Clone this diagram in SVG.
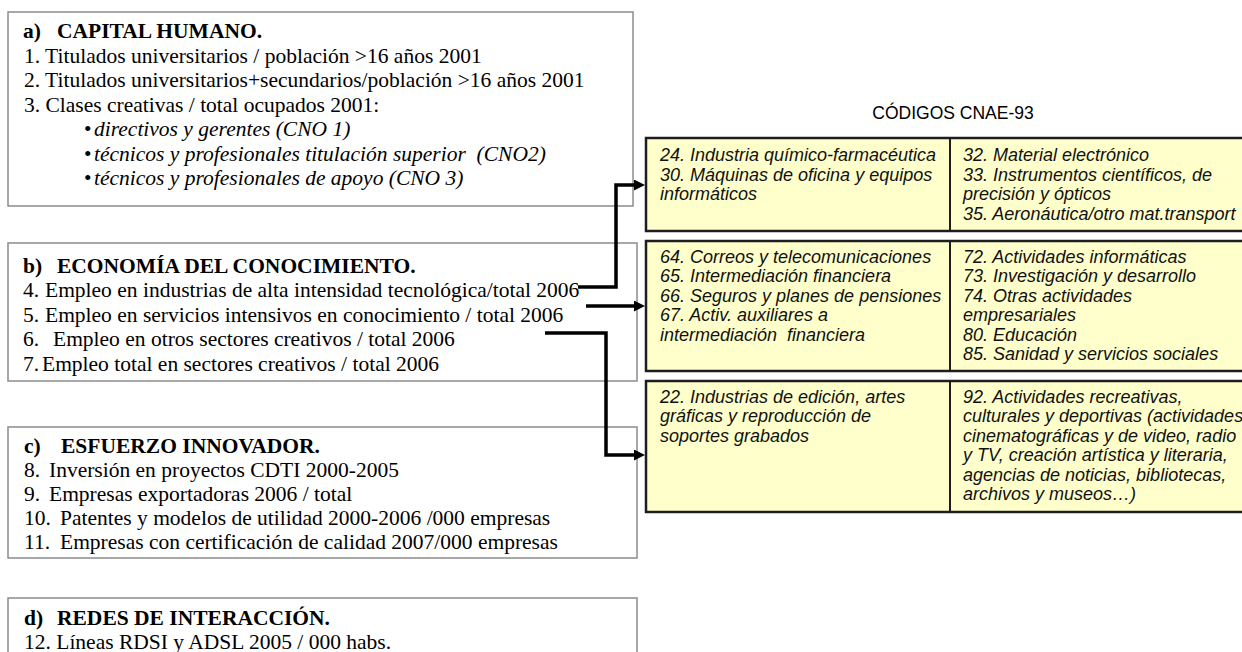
<svg xmlns="http://www.w3.org/2000/svg" width="1242" height="652" viewBox="0 0 1242 652">
<defs>
<style>
.lbox{fill:#ffffff;stroke:#8c8c8c;stroke-width:1.5}
.ybox{fill:#ffffcc;stroke:#1e1e1e;stroke-width:2.5}
.div{stroke:#1e1e1e;stroke-width:2}
.t{font-family:"Liberation Serif","Times New Roman",serif;font-size:21.5px;fill:#000}
.h{font-weight:bold}
.it{font-style:italic}
.y{font-family:"Liberation Sans",Arial,sans-serif;font-size:18px;font-style:italic;fill:#111}
.title{font-family:"Liberation Sans",Arial,sans-serif;font-size:17.5px;fill:#000}
.conn{fill:none;stroke:#000;stroke-width:3.5;stroke-linejoin:miter}
</style>
<marker id="arr" markerUnits="userSpaceOnUse" markerWidth="12" markerHeight="11" refX="6" refY="5.5" orient="auto">
<path d="M0,0 L11,5.5 L0,11 z" fill="#000"/>
</marker>
</defs>

<g id="box-a">
<rect class="lbox" x="8" y="12" width="625" height="194"/>
<text class="t h" x="23" y="38">a)</text><text class="t h" x="57" y="38">CAPITAL HUMANO.</text>
<text class="t" x="24" y="62.5">1. Titulados universitarios / población &gt;16 años 2001</text>
<text class="t" x="24" y="87">2. Titulados universitarios+secundarios/población &gt;16 años 2001</text>
<text class="t" x="24" y="111.5">3. Clases creativas / total ocupados 2001:</text>
<text class="t" x="84" y="136">•</text><text class="t it" x="94" y="136">directivos y gerentes (CNO 1)</text>
<text class="t" x="84" y="160.5">•</text><text class="t it" x="94" y="160.5" xml:space="preserve">técnicos y profesionales titulación superior  (CNO2)</text>
<text class="t" x="84" y="185">•</text><text class="t it" x="94" y="185">técnicos y profesionales de apoyo (CNO 3)</text>
</g>

<g id="box-b">
<rect class="lbox" x="8" y="243" width="629" height="138"/>
<text class="t h" x="23" y="272.5">b)</text><text class="t h" x="57" y="272.5">ECONOMÍA DEL CONOCIMIENTO.</text>
<text class="t" x="23" y="297">4.</text><text class="t" x="45" y="297">Empleo en industrias de alta intensidad tecnológica/total 2006</text>
<text class="t" x="23" y="321.5">5.</text><text class="t" x="45" y="321.5">Empleo en servicios intensivos en conocimiento / total 2006</text>
<text class="t" x="23" y="346">6.</text><text class="t" x="53" y="346">Empleo en otros sectores creativos / total 2006</text>
<text class="t" x="23" y="370.5">7.</text><text class="t" x="42" y="370.5">Empleo total en sectores creativos / total 2006</text>
</g>

<g id="box-c">
<rect class="lbox" x="8" y="427" width="629" height="131"/>
<text class="t h" x="24" y="453">c)</text><text class="t h" x="61" y="453">ESFUERZO INNOVADOR.</text>
<text class="t" x="24" y="477">8.</text><text class="t" x="49" y="477">Inversión en proyectos CDTI 2000-2005</text>
<text class="t" x="24" y="501">9.</text><text class="t" x="49" y="501">Empresas exportadoras 2006 / total</text>
<text class="t" x="24" y="525">10.</text><text class="t" x="60" y="525">Patentes y modelos de utilidad 2000-2006 /000 empresas</text>
<text class="t" x="24" y="549">11.</text><text class="t" x="60" y="549">Empresas con certificación de calidad 2007/000 empresas</text>
</g>

<g id="box-d">
<rect class="lbox" x="8" y="598" width="629" height="80"/>
<text class="t h" x="24" y="625">d)</text><text class="t h" x="57" y="625">REDES DE INTERACCIÓN.</text>
<text class="t" x="24" y="649">12. Líneas RDSI y ADSL 2005 / 000 habs.</text>
</g>

<text id="title" class="title" x="953" y="119" text-anchor="middle">CÓDIGOS CNAE-93</text>

<g id="cnae-1">
<rect class="ybox" x="646" y="138" width="600" height="93"/>
<line class="div" x1="950" y1="138" x2="950" y2="231"/>
<text class="y" x="660" y="161">24. Industria químico-farmacéutica</text>
<text class="y" x="660" y="180.5">30. Máquinas de oficina y equipos</text>
<text class="y" x="660" y="200">informáticos</text>
<text class="y" x="963" y="161">32. Material electrónico</text>
<text class="y" x="963" y="180.5">33. Instrumentos científicos, de</text>
<text class="y" x="963" y="200">precisión y ópticos</text>
<text class="y" x="963" y="219.5">35. Aeronáutica/otro mat.transport</text>
</g>

<g id="cnae-2">
<rect class="ybox" x="646" y="241" width="600" height="130"/>
<line class="div" x1="950" y1="241" x2="950" y2="371"/>
<text class="y" x="660" y="263">64. Correos y telecomunicaciones</text>
<text class="y" x="660" y="282.4">65. Intermediación financiera</text>
<text class="y" x="660" y="301.8">66. Seguros y planes de pensiones</text>
<text class="y" x="660" y="321.2">67. Activ. auxiliares a</text>
<text class="y" x="660" y="340.6" xml:space="preserve">intermediación  financiera</text>
<text class="y" x="963" y="263">72. Actividades informáticas</text>
<text class="y" x="963" y="282.4">73. Investigación y desarrollo</text>
<text class="y" x="963" y="301.8">74. Otras actividades</text>
<text class="y" x="963" y="321.2">empresariales</text>
<text class="y" x="963" y="340.6">80. Educación</text>
<text class="y" x="963" y="360">85. Sanidad y servicios sociales</text>
</g>

<g id="cnae-3">
<rect class="ybox" x="646" y="381" width="600" height="131"/>
<line class="div" x1="950" y1="381" x2="950" y2="512"/>
<text class="y" x="660" y="403">22. Industrias de edición, artes</text>
<text class="y" x="660" y="422.4">gráficas y reproducción de</text>
<text class="y" x="660" y="441.8">soportes grabados</text>
<text class="y" x="963" y="403">92. Actividades recreativas,</text>
<text class="y" x="963" y="422.4">culturales y deportivas (actividades</text>
<text class="y" x="963" y="441.8">cinematográficas y de video, radio</text>
<text class="y" x="963" y="461.2">y TV, creación artística y literaria,</text>
<text class="y" x="963" y="480.6">agencias de noticias, bibliotecas,</text>
<text class="y" x="963" y="500">archivos y museos…)</text>
</g>

<g id="connectors">
<path class="conn" d="M578,287 H616 V185 H640" marker-end="url(#arr)"/>
<path class="conn" d="M586,306 H640" marker-end="url(#arr)"/>
<path class="conn" d="M545,333 H606 V455 H640" marker-end="url(#arr)"/>
</g>
</svg>
